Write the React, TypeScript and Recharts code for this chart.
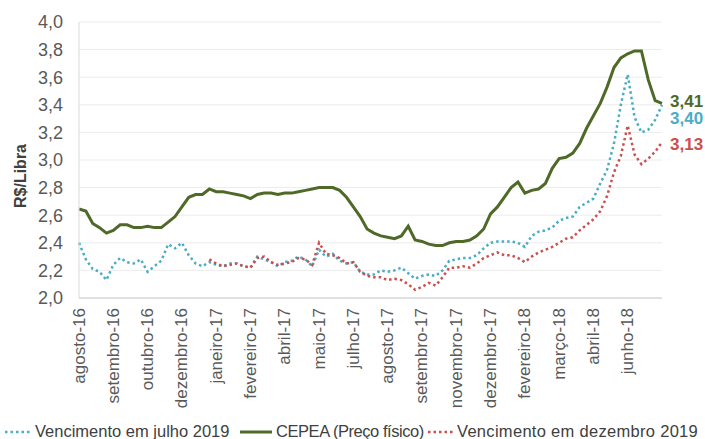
import React from 'react';
import { LineChart, Line, XAxis, YAxis, CartesianGrid } from 'recharts';

// month labels shown on the axis, one every `stepsPerLabel` points
const monthLabels = [
  'agosto-16', 'setembro-16', 'outubro-16', 'dezembro-16', 'janeiro-17', 'fevereiro-17',
  'abril-17', 'maio-17', 'julho-17', 'agosto-17', 'setembro-17', 'novembro-17',
  'dezembro-17', 'fevereiro-18', 'março-18', 'abril-18', 'junho-18',
];
const stepsPerLabel = 5;

// R$/libra
const cepea = [
  2.645, 2.63, 2.54, 2.51, 2.47, 2.49, 2.53, 2.53, 2.51, 2.51,
  2.52, 2.51, 2.51, 2.55, 2.59, 2.66, 2.73, 2.75, 2.75, 2.79,
  2.77, 2.77, 2.76, 2.75, 2.74, 2.72, 2.75, 2.76, 2.76, 2.75,
  2.76, 2.76, 2.77, 2.78, 2.79, 2.80, 2.80, 2.80, 2.78, 2.73,
  2.66, 2.59, 2.50, 2.47, 2.45, 2.44, 2.43, 2.45, 2.52, 2.42,
  2.41, 2.39, 2.38, 2.38, 2.40, 2.41, 2.41, 2.42, 2.45, 2.50,
  2.61, 2.66, 2.73, 2.80, 2.84, 2.76, 2.78, 2.79, 2.83, 2.94,
  3.01, 3.02, 3.05, 3.12, 3.23, 3.32, 3.41, 3.53, 3.67, 3.74,
  3.77, 3.79, 3.79, 3.58, 3.43, 3.41,
];

const julho2019 = [
  2.40, 2.28, 2.21, 2.19, 2.13, 2.24, 2.29, 2.26, 2.25, 2.28,
  2.19, 2.23, 2.27, 2.39, 2.36, 2.40, 2.31, 2.25, 2.23, 2.26,
  2.24, 2.23, 2.25, 2.25, 2.23, 2.22, 2.30, 2.28, 2.26, 2.23,
  2.26, 2.27, 2.30, 2.28, 2.23, 2.35, 2.30, 2.32, 2.27, 2.25,
  2.26, 2.19, 2.17, 2.17, 2.20, 2.19, 2.20, 2.22, 2.18, 2.14,
  2.16, 2.17, 2.16, 2.20, 2.27, 2.28, 2.29, 2.29, 2.31, 2.36,
  2.40, 2.41, 2.41, 2.41, 2.40, 2.37, 2.45, 2.48, 2.49, 2.51,
  2.56, 2.58, 2.59, 2.66, 2.69, 2.72, 2.83, 2.93, 3.12, 3.40,
  3.62, 3.31, 3.20, 3.22, 3.29, 3.40,
];

// december contract starts later in the series
const dezembroStart = 19;
const dezembro2019 = [
  2.28, 2.25, 2.23, 2.24, 2.25, 2.23, 2.22, 2.29, 2.30, 2.26,
  2.24, 2.25, 2.26, 2.29, 2.28, 2.24, 2.40, 2.32, 2.31, 2.29,
  2.25, 2.26, 2.19, 2.16, 2.15, 2.15, 2.13, 2.14, 2.13, 2.10,
  2.06, 2.08, 2.11, 2.09, 2.15, 2.22, 2.22, 2.23, 2.22, 2.25,
  2.29, 2.31, 2.33, 2.31, 2.31, 2.29, 2.26, 2.30, 2.33, 2.35,
  2.37, 2.40, 2.43, 2.44, 2.49, 2.53, 2.57, 2.63, 2.74, 2.91,
  3.03, 3.25, 3.04, 2.97, 3.01, 3.06, 3.13,
];

const yTicks = [2.0, 2.2, 2.4, 2.6, 2.8, 3.0, 3.2, 3.4, 3.6, 3.8, 4.0];

const GREEN = '#4f6a28';
const BLUE = '#4bacc6';
const RED = '#c9504d';
const FONT = '"Liberation Sans", Arial, sans-serif';

const data = cepea.map((v, i) => ({
  i,
  cepea: v,
  julho: julho2019[i],
  dezembro: i >= dezembroStart ? dezembro2019[i - dezembroStart] : null,
}));
const lastIndex = data.length - 1;
const xTicks = monthLabels.map((_, k) => k * stepsPerLabel);

const fmt = (v: number) => v.toFixed(2).replace('.', ',');

const MonthTick = (props: any) => {
  const { x, y, payload } = props;
  const label = monthLabels[Math.round(payload.value / stepsPerLabel)];
  const ty = y + 2;
  return (
    <text
      x={x}
      y={ty}
      transform={`rotate(-90, ${x}, ${ty})`}
      textAnchor="end"
      dominantBaseline="central"
      fill="#595959"
      fontSize={17}
      fontFamily={FONT}
    >
      {label}
    </text>
  );
};

const AxisTitle = (props: any) => {
  const { viewBox } = props;
  const cx = viewBox.x + 20;
  const cy = viewBox.y + viewBox.height / 2 + 16;
  return (
    <text
      x={cx}
      y={cy}
      transform={`rotate(-90, ${cx}, ${cy})`}
      textAnchor="middle"
      dominantBaseline="central"
      fill="#404040"
      fontSize={16}
      fontWeight="bold"
      fontFamily={FONT}
    >
      R$/Libra
    </text>
  );
};

// value label at the end of each line
const endLabel = (color: string, dy: number) => (props: any) => {
  const { x, y, value, index } = props;
  if (index !== lastIndex) return null;
  return (
    <text
      x={x + 8}
      y={y + dy}
      fill={color}
      fontSize={17}
      fontWeight="bold"
      fontFamily={FONT}
      dominantBaseline="central"
    >
      {fmt(value)}
    </text>
  );
};

const LegendIcon = ({ color, dotted, w }: { color: string; dotted: boolean; w: number }) => (
  <svg width={w} height={10} style={{ display: 'block' }}>
    <line
      x1={0}
      y1={5}
      x2={w}
      y2={5}
      stroke={color}
      strokeWidth={dotted ? 2.5 : 3}
      strokeDasharray={dotted ? '2.5 3' : undefined}
    />
  </svg>
);

const legendItems = [
  { name: 'Vencimento em julho 2019', color: BLUE, dotted: true, left: 5, w: 26, ls: 0 },
  { name: 'CEPEA (Preço físico)', color: GREEN, dotted: false, left: 240, w: 32, ls: -0.45 },
  { name: 'Vencimento em dezembro 2019', color: RED, dotted: true, left: 428, w: 25, ls: 0.3 },
];

export default function App() {
  return (
    <div style={{ position: 'absolute', left: 0, top: 0, width: 705, height: 439, background: '#fff', fontFamily: FONT }}>
      <LineChart width={705} height={420} data={data} margin={{ top: 22, right: 43, left: 0, bottom: 0 }}>
        <CartesianGrid vertical={false} stroke="#ececec" />
        <XAxis
          dataKey="i"
          type="number"
          domain={[0, lastIndex]}
          ticks={xTicks}
          interval={0}
          tick={<MonthTick />}
          tickLine={false}
          axisLine={{ stroke: '#d9d9d9', strokeWidth: 1.5 }}
          height={122}
        />
        <YAxis
          domain={[2, 4]}
          ticks={yTicks}
          interval={0}
          width={79}
          tickLine={false}
          tickMargin={10}
          axisLine={{ stroke: '#d9d9d9' }}
          tick={{ fill: '#595959', fontSize: 18, fontFamily: FONT }}
          tickFormatter={(v: number) => v.toFixed(1).replace('.', ',')}
          label={<AxisTitle />}
        />
        <Line
          type="linear"
          dataKey="julho"
          stroke={BLUE}
          strokeWidth={2.5}
          strokeDasharray="2.5 3"
          dot={false}
          isAnimationActive={false}
          label={endLabel(BLUE, 14)}
        />
        <Line
          type="linear"
          dataKey="dezembro"
          stroke={RED}
          strokeWidth={2.5}
          strokeDasharray="2.5 3"
          dot={false}
          isAnimationActive={false}
          label={endLabel(RED, 2)}
        />
        <Line
          type="linear"
          dataKey="cepea"
          stroke={GREEN}
          strokeWidth={3}
          dot={false}
          isAnimationActive={false}
          label={endLabel(GREEN, -2)}
        />
      </LineChart>
      {legendItems.map((it) => (
        <div
          key={it.name}
          style={{
            position: 'absolute',
            left: it.left,
            top: 422,
            display: 'flex',
            alignItems: 'center',
            gap: 4,
            fontSize: 16.5,
            color: '#404040',
            whiteSpace: 'nowrap',
            letterSpacing: it.ls,
          }}
        >
          <LegendIcon color={it.color} dotted={it.dotted} w={it.w} />
          <span>{it.name}</span>
        </div>
      ))}
    </div>
  );
}
